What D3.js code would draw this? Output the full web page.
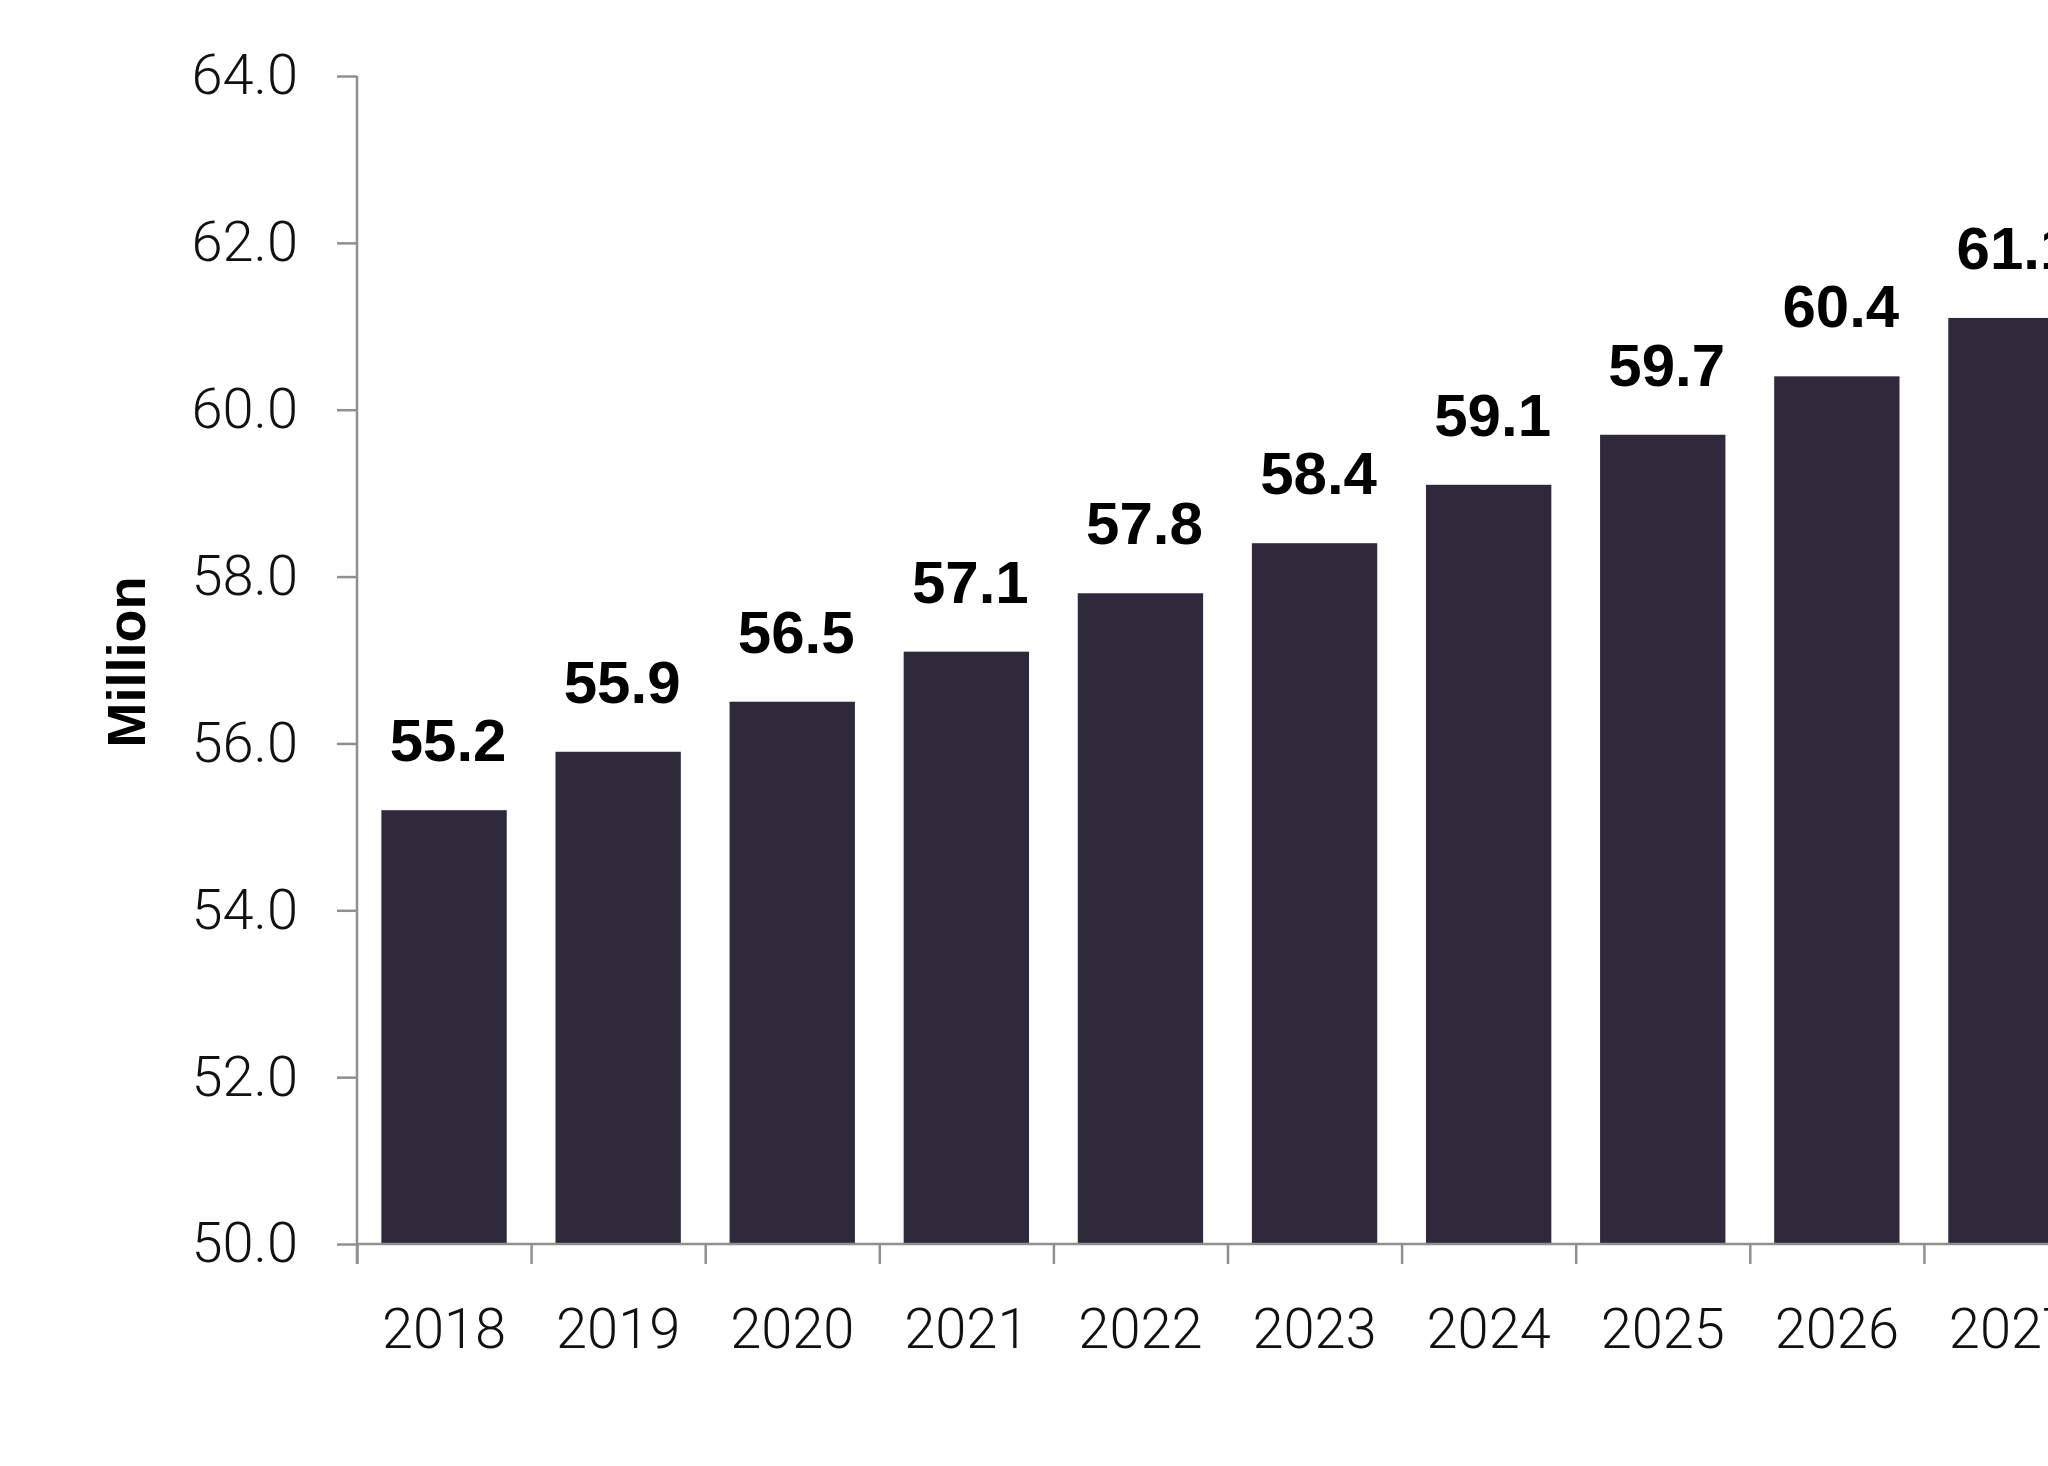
<!DOCTYPE html>
<html><head><meta charset="utf-8">
<script src="https://cdn.jsdelivr.net/npm/d3@7"></script>
<style>
html,body{margin:0;padding:0;background:#fff;overflow:hidden;}
svg{display:block;}
</style></head>
<body>
<svg id="chart" width="2048" height="1466"></svg>
<script>
const years = ["2018","2019","2020","2021","2022","2023","2024","2025","2026","2027"];
const values = [55.2,55.9,56.5,57.1,57.8,58.4,59.1,59.7,60.4,61.1];
const yTicks = [50,52,54,56,58,60,62,64];
const yLabel = "Million";

const svg = d3.select("#chart");
const axisX0 = 357, step = 174.1;
const yTop = 76, yBot = 1244;
const x = d3.scaleBand().domain(years).range([axisX0, axisX0 + step*years.length]).paddingInner(0.28).paddingOuter(0.14);
const xb = d3.scaleLinear().domain([0, years.length]).range([axisX0, axisX0 + step*years.length]);
const y = d3.scaleLinear().domain([50,64]).range([yBot, yTop]);
const axisCol = "#8f8f8f";
const barCol = "#2e2a3c";

svg.selectAll("rect.bar").data(years).join("rect")
  .attr("class","bar")
  .attr("x", d=>x(d)).attr("width", x.bandwidth())
  .attr("y", (d,i)=>y(values[i])).attr("height",(d,i)=>y(50)-y(values[i]))
  .attr("fill", barCol);

// y axis
const gy = svg.append("g").attr("transform",`translate(${axisX0},0)`)
  .call(d3.axisLeft(y).tickValues(yTicks).tickFormat(d3.format(".1f")).tickSize(20).tickPadding(39));
gy.select(".domain").attr("stroke",axisCol).attr("stroke-width",2.5).attr("d",`M0,${yTop}V${yBot+20}`);
gy.selectAll(".tick line").attr("stroke",axisCol).attr("stroke-width",2.5);
gy.selectAll(".tick text").attr("font-family","Roboto").attr("font-weight",300).attr("font-size",56).attr("fill","#111");

// x axis boundary ticks
const gx = svg.append("g").attr("transform",`translate(0,${yBot})`)
  .call(d3.axisBottom(xb).tickValues(d3.range(0, years.length+1)).tickFormat("").tickSize(20));
gx.select(".domain").attr("stroke",axisCol).attr("stroke-width",2.5).attr("d",`M${axisX0},0H2100`);
gx.selectAll(".tick line").attr("stroke",axisCol).attr("stroke-width",2.5);

// x labels
const gxl = svg.append("g").attr("transform",`translate(0,${yBot})`)
  .call(d3.axisBottom(x).tickSize(0).tickPadding(64));
gxl.select(".domain").remove();
gxl.selectAll(".tick text").attr("font-family","Roboto").attr("font-weight",300).attr("font-size",56).attr("fill","#111");

// value labels
svg.selectAll("text.val").data(years).join("text")
  .attr("class","val")
  .attr("x", d=>x(d)+x.bandwidth()/2 + 4)
  .attr("y", (d,i)=>y(values[i]) - 49)
  .attr("text-anchor","middle")
  .attr("font-family","Liberation Sans").attr("font-weight",700).attr("font-size",60).attr("fill","#000")
  .text((d,i)=>values[i].toFixed(1));

// y title
svg.append("text")
  .attr("transform",`translate(145,662) rotate(-90)`)
  .attr("text-anchor","middle")
  .attr("font-family","Liberation Sans").attr("font-weight",700).attr("font-size",54).attr("fill","#000")
  .text(yLabel);
</script>
</body></html>
